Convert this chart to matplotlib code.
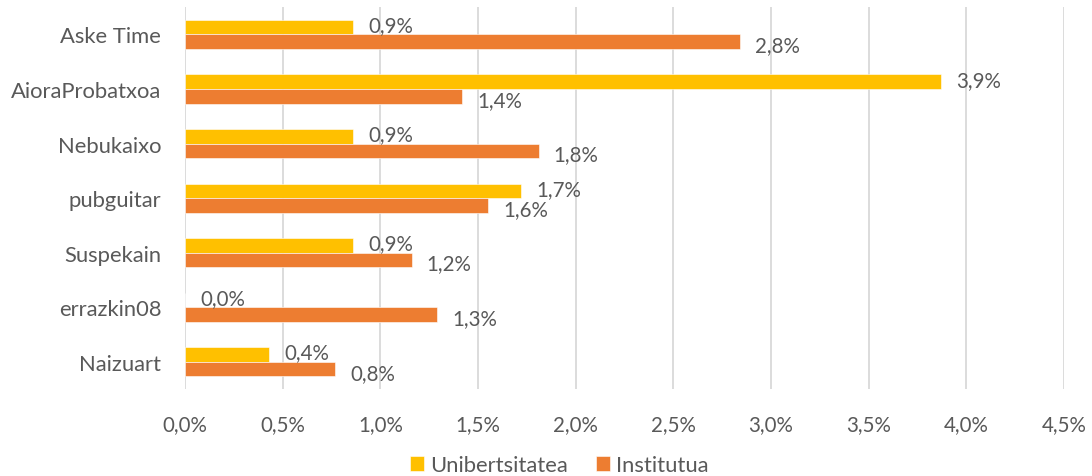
import numpy as np
import matplotlib.pyplot as plt
from matplotlib.ticker import FuncFormatter

# Erabiltzaileak eta ehunekoak (%)
users = ['Aske Time', 'AioraProbatxoa', 'Nebukaixo', 'pubguitar',
         'Suspekain', 'errazkin08', 'Naizuart']
unibertsitatea = [0.86, 3.87, 0.86, 1.72, 0.86, 0.0, 0.43]
institutua = [2.84, 1.42, 1.81, 1.55, 1.16, 1.29, 0.77]
xticks = [0.0, 0.5, 1.0, 1.5, 2.0, 2.5, 3.0, 3.5, 4.0, 4.5]

yellow = '#FFC000'
orange = '#ED7D31'
text_col = '#595959'

plt.rcParams['font.family'] = ['Lato', 'DejaVu Sans']

fig = plt.figure(figsize=(10.92, 4.77), dpi=100)
ax = fig.add_axes([0.1694, 0.182, 0.805, 0.801])

y = np.arange(len(users))
h = 0.266
ax.barh(y - h / 2, unibertsitatea, height=h, color=yellow, label='Unibertsitatea',
        edgecolor='white', linewidth=0.4, zorder=3)
ax.barh(y + h / 2, institutua, height=h, color=orange, label='Institutua',
        edgecolor='white', linewidth=0.4, zorder=3)

def pct(v):
    return f'{v:.1f}%'.replace('.', ',')

# Balioen etiketak barren amaieran
for yi, v in zip(y, unibertsitatea):
    ax.annotate(pct(v), (v, yi - h / 2), xytext=(11, 1.5), textcoords='offset points',
                ha='left', va='center', fontsize=14.8, color=text_col)
for yi, v in zip(y, institutua):
    ax.annotate(pct(v), (v, yi + h / 2), xytext=(11, -2.5), textcoords='offset points',
                ha='left', va='center', fontsize=14.8, color=text_col)

ax.set_xlim(0, 4.5)
ax.set_ylim(len(users) - 0.5, -0.5)
ax.set_xticks(xticks)
ax.xaxis.set_major_formatter(FuncFormatter(lambda v, _: pct(v)))
ax.set_yticks(y)
ax.set_yticklabels(users)
ax.tick_params(axis='both', length=0, labelcolor=text_col)
ax.tick_params(axis='x', pad=18, labelsize=14.8)
ax.tick_params(axis='y', pad=17, labelsize=15.8)

ax.grid(axis='x', color='#D9D9D9', linewidth=1.3, zorder=0)
for s in ax.spines.values():
    s.set_visible(False)

ax.legend(loc='center', bbox_to_anchor=(0.512, 0.023), bbox_transform=fig.transFigure,
          ncol=2, frameon=False, fontsize=15.8, handlelength=0.64, handleheight=0.64,
          handletextpad=0.27, columnspacing=1.28, labelcolor=text_col)

fig.savefig('out.png', dpi=100)
